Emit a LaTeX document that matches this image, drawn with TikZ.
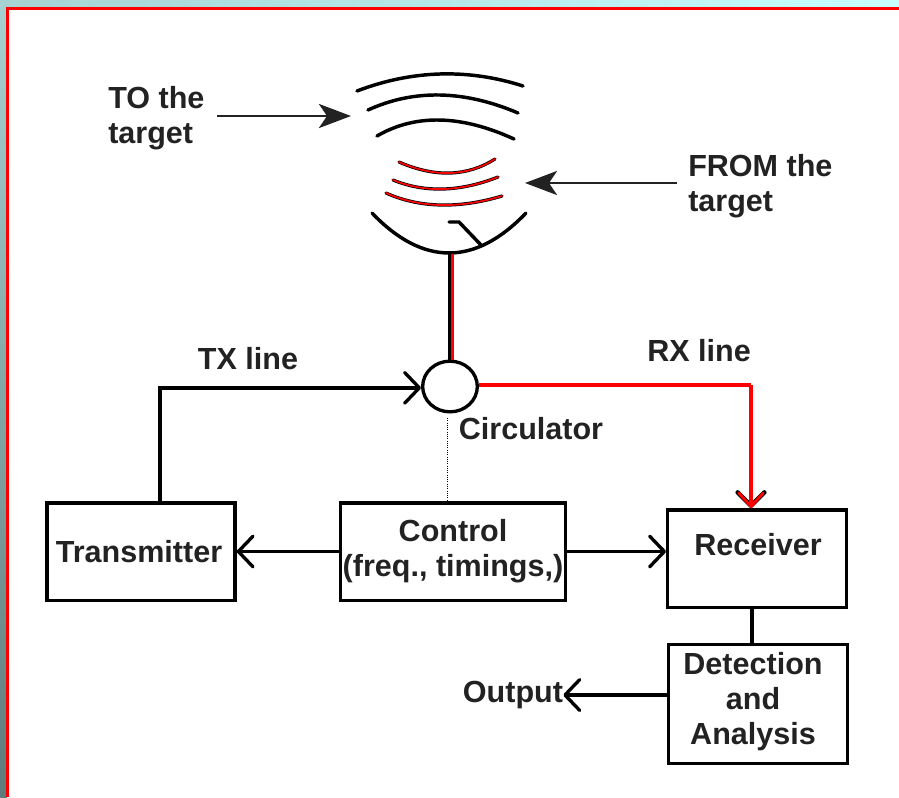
\documentclass[tikz,border=0pt]{standalone}
\usepackage{fontspec}
\setmainfont{Liberation Sans}
\usetikzlibrary{arrows.meta}
\usetikzlibrary{shapes.geometric}
\definecolor{topleft}{HTML}{A6D2D2}
\definecolor{topright}{HTML}{C8FFFF}
\definecolor{leftlow}{HTML}{5F7B7B}
\definecolor{inktext}{HTML}{222222}
\tikzset{
	blocktext/.style={font=\fontsize{22.9}{26.25}\selectfont\bfseries, text=inktext, inner sep=0pt, align=center},
	block/.style={draw=black, line width=2.5pt, inner sep=0pt, font=\fontsize{22.9}{26.25}\selectfont\bfseries, text=inktext, align=center},
	openarrow/.style={-{Straight Barb[length=11pt,width=23pt,line width=2.5pt,round]}, line width=2.5pt},
	redarrow/.style={-{Straight Barb[length=10pt,width=18pt,line width=2.2pt,round]}, draw=red, line width=3pt},
	fatarrow/.style={-{Stealth[length=24pt,width=18pt,inset=6pt]}, draw=inktext, line width=2.2pt},
	wave/.style={line width=2.6pt, line cap=round}
}
\begin{document}
\begin{tikzpicture}[x=0.75pt,y=-0.75pt]
	\useasboundingbox (0,0) rectangle (899,797);
	% window behind the slide
	\shade[left color=topleft, right color=topright] (0,0) rectangle (899,8);
	\shade[top color=topleft, bottom color=leftlow] (0,0) rectangle (7,797);
	\fill[white] (7,8) rectangle (899,797);
	\draw[red, line width=2.25pt] (7.5,797) -- (7.5,8.5) -- (899,8.5);

	% waves and dish
	\begin{scope}[wave]
		\foreach \ax/\ay/\cx/\cy/\dx/\dy/\bx/\by in {357/91/412/70/468/68.3/523/86, 368/110/414/89/464/90/518/113, 377/136/415.3/113.7/461/114.7/514/139}
			\draw (\ax,\ay) .. controls (\cx,\cy) and (\dx,\dy) .. (\bx,\by);
		\foreach \ax/\ay/\cx/\cy/\dx/\dy/\bx/\by in {399/162/435/177.7/467/176.7/495/159, 393/180/424.7/193/460/192/498/177, 386/193/419.3/208/458.7/209/502/196}{
			\draw[black, line width=2.4pt] (\ax,\ay) .. controls (\cx,\cy) and (\dx,\dy) .. (\bx,\by);
			\draw[red, line width=1.3pt] (\ax,\ay) .. controls (\cx,\cy) and (\dx,\dy) .. (\bx,\by);
		}
		\draw (372,213) .. controls (423,266.3) and (475,266.3) .. (526,213);
		\draw (449,222) -- (459,222) -- (481,245);
	\end{scope}

	\coordinate (dish) at (450,254);

	% blocks
	\node[block, minimum width=141pt, minimum height=73pt] (transmitter) at (141,551.5) {};
	\node[blocktext] (transmittertext) at (139,552) {Transmitter};
	\node[block, minimum width=169pt, minimum height=73pt] (control) at (453,551.5) {Control\\(freq., timings,)};
	\node[block, minimum width=134pt, minimum height=73pt] (receiver) at (757,558.5) {};
	\node[blocktext] (receivertext) at (758,545) {Receiver};
	\node[block, minimum width=134pt, minimum height=89pt] (detection) at (758,704) {};
	\node[blocktext] (detectiontext) at (753,702) {Detection\\and\\Analysis};
	\node[draw=black, line width=2.5pt, ellipse, inner sep=0pt, minimum width=41pt, minimum height=38pt] (circulator) at (450,386.5) {};

	% labels
	\node[blocktext, align=left, anchor=west] (tolabel) at (108,118) {TO the\\target};
	\node[blocktext, align=left, anchor=west] (fromlabel) at (688,186.5) {FROM the\\target};
	\node[blocktext] (txlabel) at (248,359) {TX line};
	\node[blocktext] (rxlabel) at (699,351) {RX line};
	\node[blocktext] (circlabel) at (531,429) {Circulator};
	\node[blocktext] (output) at (513,695) {Output};

	% connectors
	\coordinate (txup) at (160,501);
	\coordinate (rxturn) at (751,385);
	\coordinate (rxin) at (751,508);
	\coordinate (rxtip) at (751,490);
	\coordinate (detout) at (668,695);
	\coordinate (totail) at (217,116);
	\coordinate (tohead) at (351,116);
	\coordinate (fromtail) at (677,183);
	\coordinate (fromhead) at (525,183);
	\draw[line width=2.25pt] ([xshift=-0.4pt]dish) -- ([xshift=-0.4pt]circulator.north);
	\draw[red, line width=2.25pt] ([xshift=1.9pt]dish) -- ([xshift=1.9pt]circulator.north);
	\draw[openarrow] (txup) |- ([yshift=-1pt]circulator.west);
	\draw[red, line width=3pt] (circulator.east |- rxturn) -- (rxturn);
	\draw[-{Straight Barb[length=10pt,width=20pt,line width=3.4pt,round]}, line width=1pt] (rxtip) -- (rxin);
	\draw[redarrow] (rxturn) -- (rxin);
	\draw[openarrow] (control.west) -- (transmitter.east);
	\draw[openarrow] (control.east) -- (control.east -| receiver.west);
	\draw[line width=2.5pt] (receiver.south -| 752,0) -- (detection.north -| 752,0);
	\draw[openarrow] (detout) -- (detout -| output.east);
	\draw[line width=0.7pt, densely dotted] (447,418) -- (control.north -| 447,0);
	\draw[fatarrow] (totail) -- (tohead);
	\draw[fatarrow] (fromtail) -- (fromhead);
\end{tikzpicture}
\end{document}
